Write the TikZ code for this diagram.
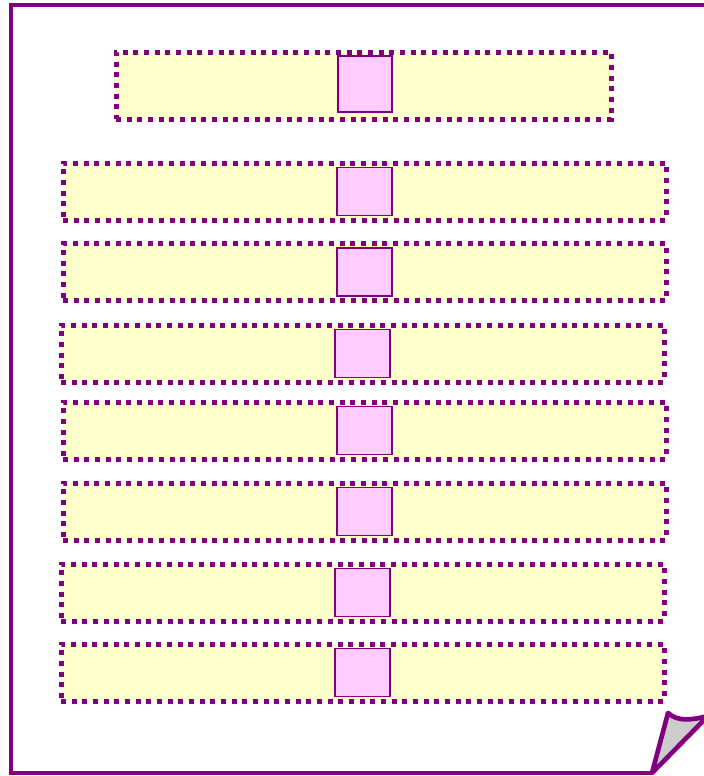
\documentclass[tikz,border=0pt]{standalone}
\usetikzlibrary{calc}
\definecolor{pagepurple}{HTML}{800080}
\definecolor{stripyellow}{HTML}{FFFFCC}
\definecolor{cellpink}{HTML}{FFCCFF}
\tikzset{
  strip/.style={draw=pagepurple,fill=stripyellow,line width=3.75pt,
    dash pattern=on 3.75pt off 4.25pt,inner sep=0pt,outer sep=0pt,
    minimum width=452.25pt,minimum height=42.75pt},
  cell/.style={draw=pagepurple,fill=cellpink,line width=0.8pt,inner sep=0pt,
    minimum width=41.25pt,minimum height=36pt},
}
\begin{document}
\begin{tikzpicture}[x=0.75pt,y=-0.75pt]
\useasboundingbox (0,0) rectangle (704,776);
\clip (0,0) rectangle (704,776);
\fill[white] (0,0) rectangle (704,776);
% page outline with the folded corner
\draw[pagepurple,line width=3.5pt,line join=miter]
  (740,5) -- (11,5) -- (11,773) -- (652,773);
\coordinate (foldbase) at (652,773);
\coordinate (foldtip) at (668,713);
\coordinate (foldend) at (708,716);
\filldraw[pagepurple,fill=black!20,line width=3.5pt,line join=round]
  (foldbase) -- (foldtip) .. controls (678,722) and (692,720) .. (foldend) -- cycle;
% the strips
\node[strip,minimum width=371.25pt,minimum height=50.25pt] (head) at (363.5,85.5) {};
\node[cell,minimum height=42pt,minimum width=40.5pt] (headcell) at (365,84) {};
\foreach \n/\x/\y in {2/364.5/191.5,3/364.5/272,4/362.5/353.5,5/364.5/430.5,
                      6/364.5/511.5,7/362.5/592.5,8/362.5/672.5} {
  \node[strip] (row\n) at (\x,\y) {};
  \node[cell] (cell\n) at (row\n) {};
}
\end{tikzpicture}
\end{document}
